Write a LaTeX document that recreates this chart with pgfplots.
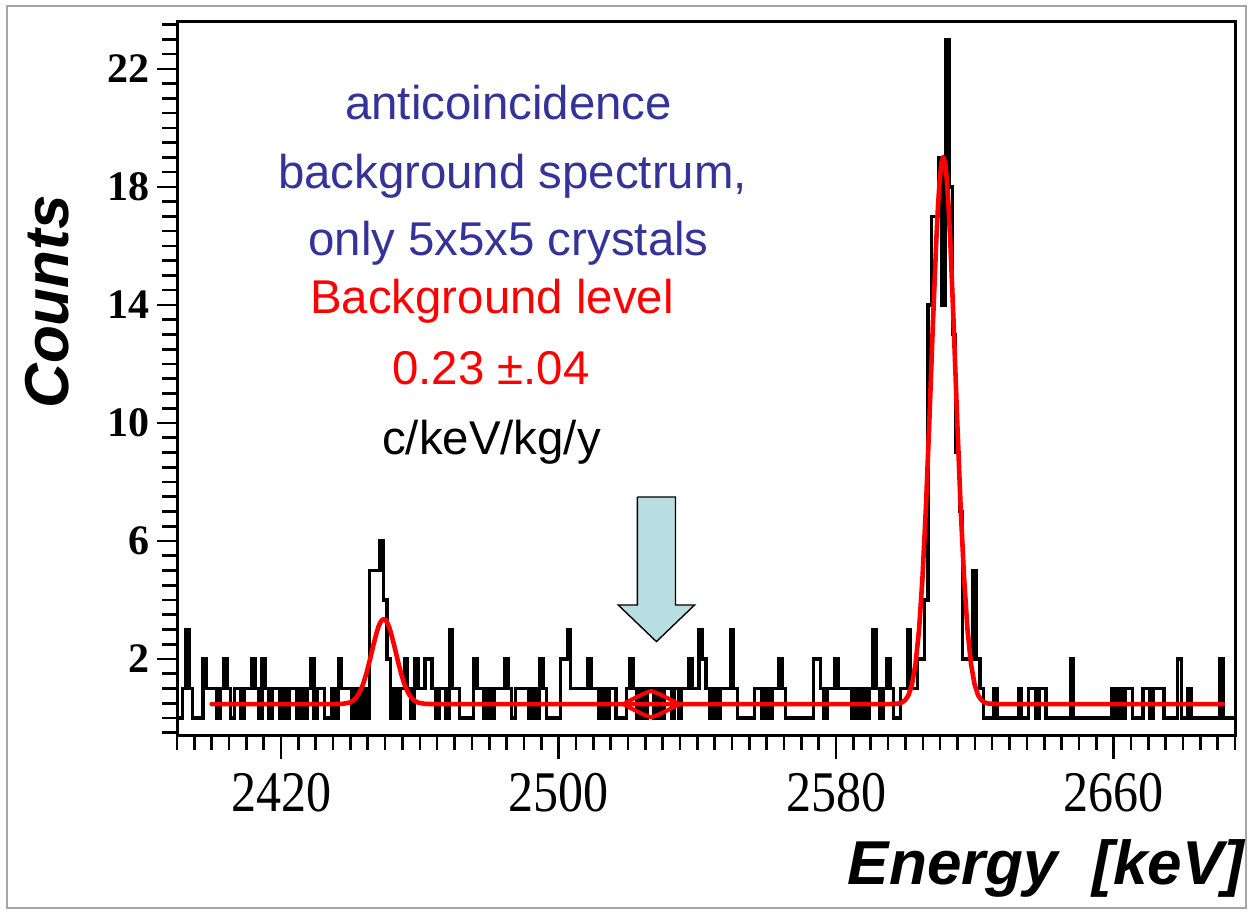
\documentclass[border=0pt]{standalone}
\usepackage{pgfplots}
\pgfplotsset{compat=1.18}
\usepackage{pgfplotstable}
\usepackage{fontspec}
\setmainfont{Liberation Serif}
\newfontfamily\arial{Liberation Sans}

\definecolor{txtblue}{RGB}{51,51,153}
\definecolor{arrowfill}{RGB}{184,222,226}
\definecolor{framegray}{RGB}{165,165,165}

% counts per 1 keV bin (bin centre, counts)
\pgfplotstableread[row sep=\\]{
E n \\
2389 0 \\
2390 0 \\ 2391 0 \\ 2392 1 \\ 2393 3 \\ 2394 1 \\ 2395 0 \\ 2396 0 \\ 2397 0 \\ 2398 2 \\ 2399 1 \\
2400 1 \\ 2401 1 \\ 2402 0 \\ 2403 1 \\ 2404 2 \\ 2405 1 \\ 2406 0 \\ 2407 1 \\ 2408 1 \\ 2409 0 \\
2410 1 \\ 2411 1 \\ 2412 2 \\ 2413 1 \\ 2414 0 \\ 2415 2 \\ 2416 1 \\ 2417 0 \\ 2418 1 \\ 2419 1 \\
2420 0 \\ 2421 1 \\ 2422 0 \\ 2423 1 \\ 2424 1 \\ 2425 0 \\ 2426 1 \\ 2427 0 \\ 2428 1 \\ 2429 2 \\
2430 0 \\ 2431 1 \\ 2432 1 \\ 2433 0 \\ 2434 0 \\ 2435 1 \\ 2436 0 \\ 2437 2 \\ 2438 1 \\ 2439 1 \\
2440 1 \\ 2441 0 \\ 2442 1 \\ 2443 0 \\ 2444 1 \\ 2445 0 \\ 2446 5 \\ 2447 5 \\ 2448 5 \\ 2449 6 \\
2450 4 \\ 2451 2 \\ 2452 0 \\ 2453 1 \\ 2454 0 \\ 2455 1 \\ 2456 2 \\ 2457 1 \\ 2458 0 \\ 2459 2 \\
2460 1 \\ 2461 1 \\ 2462 2 \\ 2463 2 \\ 2464 1 \\ 2465 0 \\ 2466 1 \\ 2467 1 \\ 2468 0 \\ 2469 3 \\
2470 1 \\ 2471 1 \\ 2472 0 \\ 2473 0 \\ 2474 0 \\ 2475 0 \\ 2476 2 \\ 2477 1 \\ 2478 1 \\ 2479 0 \\
2480 1 \\ 2481 0 \\ 2482 1 \\ 2483 1 \\ 2484 1 \\ 2485 2 \\ 2486 1 \\ 2487 0 \\ 2488 1 \\ 2489 1 \\
2490 1 \\ 2491 1 \\ 2492 0 \\ 2493 1 \\ 2494 0 \\ 2495 2 \\ 2496 1 \\ 2497 0 \\ 2498 0 \\ 2499 0 \\
2500 0 \\ 2501 2 \\ 2502 2 \\ 2503 3 \\ 2504 1 \\ 2505 1 \\ 2506 1 \\ 2507 1 \\ 2508 1 \\ 2509 2 \\
2510 1 \\ 2511 1 \\ 2512 0 \\ 2513 1 \\ 2514 0 \\ 2515 1 \\ 2516 1 \\ 2517 0 \\ 2518 0 \\ 2519 0 \\
2520 1 \\ 2521 2 \\ 2522 1 \\ 2523 0 \\ 2524 1 \\ 2525 0 \\ 2526 1 \\ 2527 1 \\ 2528 0 \\ 2529 1 \\
2530 0 \\ 2531 1 \\ 2532 1 \\ 2533 0 \\ 2534 1 \\ 2535 0 \\ 2536 1 \\ 2537 1 \\ 2538 2 \\ 2539 1 \\
2540 1 \\ 2541 3 \\ 2542 2 \\ 2543 1 \\ 2544 0 \\ 2545 1 \\ 2546 0 \\ 2547 1 \\ 2548 1 \\ 2549 1 \\
2550 3 \\ 2551 1 \\ 2552 0 \\ 2553 0 \\ 2554 0 \\ 2555 0 \\ 2556 0 \\ 2557 1 \\ 2558 1 \\ 2559 0 \\
2560 1 \\ 2561 0 \\ 2562 1 \\ 2563 1 \\ 2564 2 \\ 2565 1 \\ 2566 0 \\ 2567 0 \\ 2568 0 \\ 2569 0 \\
2570 0 \\ 2571 0 \\ 2572 0 \\ 2573 0 \\ 2574 2 \\ 2575 2 \\ 2576 1 \\ 2577 0 \\ 2578 1 \\ 2579 1 \\
2580 2 \\ 2581 1 \\ 2582 1 \\ 2583 1 \\ 2584 1 \\ 2585 0 \\ 2586 1 \\ 2587 0 \\ 2588 1 \\ 2589 0 \\
2590 1 \\ 2591 3 \\ 2592 1 \\ 2593 0 \\ 2594 1 \\ 2595 2 \\ 2596 1 \\ 2597 0 \\ 2598 0 \\ 2599 1 \\
2600 1 \\ 2601 3 \\ 2602 1 \\ 2603 1 \\ 2604 2 \\ 2605 2 \\ 2606 4 \\ 2607 14 \\ 2608 17 \\ 2609 17 \\
2610 19 \\ 2611 14 \\ 2612 23 \\ 2613 18 \\ 2614 13 \\ 2615 9 \\ 2616 7 \\ 2617 2 \\ 2618 2 \\ 2619 2 \\
2620 5 \\ 2621 2 \\ 2622 1 \\ 2623 0 \\ 2624 0 \\ 2625 0 \\ 2626 1 \\ 2627 0 \\ 2628 0 \\ 2629 0 \\
2630 0 \\ 2631 0 \\ 2632 0 \\ 2633 1 \\ 2634 0 \\ 2635 0 \\ 2636 1 \\ 2637 1 \\ 2638 0 \\ 2639 1 \\
2640 1 \\ 2641 0 \\ 2642 0 \\ 2643 0 \\ 2644 0 \\ 2645 0 \\ 2646 0 \\ 2647 0 \\ 2648 2 \\ 2649 0 \\
2650 0 \\ 2651 0 \\ 2652 0 \\ 2653 0 \\ 2654 0 \\ 2655 0 \\ 2656 0 \\ 2657 0 \\ 2658 0 \\ 2659 0 \\
2660 1 \\ 2661 0 \\ 2662 1 \\ 2663 0 \\ 2664 1 \\ 2665 1 \\ 2666 0 \\ 2667 0 \\ 2668 0 \\ 2669 1 \\
2670 1 \\ 2671 0 \\ 2672 1 \\ 2673 1 \\ 2674 1 \\ 2675 0 \\ 2676 0 \\ 2677 0 \\ 2678 0 \\ 2679 2 \\
2680 0 \\ 2681 0 \\ 2682 1 \\ 2683 0 \\ 2684 0 \\ 2685 0 \\ 2686 0 \\ 2687 0 \\ 2688 0 \\ 2689 0 \\
2690 0 \\ 2691 2 \\ 2692 0 \\ 2693 0 \\ 2694 0 \\ 2695 0 \\
}\spectrum

\begin{document}
\begin{tikzpicture}
\useasboundingbox (0,0) rectangle (626pt,456pt);
\draw[framegray, line width=0.8pt] (3.5pt,2pt) rectangle (623pt,453pt);

\begin{axis}[
  at={(88.5pt,88.5pt)}, anchor=south west,
  scale only axis, width=529pt, height=356.5pt,
  xmin=2390, xmax=2695, ymin=-0.576, ymax=23.59,
  axis line style={line width=1.5pt},
  xtick={2420,2500,2580,2660},
  xticklabels={\scalebox{1}[1.15]{2420},\scalebox{1}[1.15]{2500},\scalebox{1}[1.15]{2580},\scalebox{1}[1.15]{2660}},
  minor x tick num=15,
  ytick={2,6,10,14,18,22},
  yticklabels={2,6,10,14,18,22},
  minor y tick num=7,
  tick align=outside,
  tick pos=left,
  major tick length=10pt, minor tick length=5pt,
  tick style={black, line width=1.3pt},
  xticklabel style={font=\fontsize{25}{25}\selectfont, inner sep=0pt, yshift=-9pt},
  yticklabel style={font=\fontsize{21}{21}\selectfont\bfseries, inner sep=0pt, xshift=-3.5pt},
]

% measured spectrum
\addplot[const plot mark mid, black, line width=1.7pt] table[x=E, y=n] {\spectrum};

% fit: flat background plus the two gamma lines
\addplot[red, line width=2.3pt, line join=round, line cap=round] coordinates {
(2400,0.47) (2434,0.47) (2437.6,0.478) (2439.6,0.519) (2440.6,0.576) (2441.6,0.681)
(2442.6,0.860) (2443.6,1.132) (2444.6,1.508) (2445.6,1.969) (2446.6,2.465) (2447.6,2.916)
(2448.1,3.10) (2448.6,3.235) (2449.1,3.32) (2449.6,3.35) (2450.1,3.32) (2450.6,3.235)
(2451.1,3.10) (2451.6,2.916) (2452.6,2.465) (2453.6,1.969) (2454.6,1.508) (2455.6,1.132)
(2456.6,0.860) (2457.6,0.681) (2458.6,0.576) (2459.6,0.519) (2461.6,0.478) (2465,0.47)
(2595,0.47) (2597.9,0.489) (2598.9,0.522) (2599.9,0.603) (2600.9,0.78) (2601.9,1.15)
(2602.9,1.83) (2603.9,2.97) (2604.9,4.74) (2605.9,7.15) (2606.9,10.12) (2607.9,13.33)
(2608.9,16.22) (2609.4,17.39) (2609.9,18.28) (2610.4,18.83) (2610.9,19.02) (2611.4,18.83)
(2611.9,18.28) (2612.4,17.39) (2612.9,16.22) (2613.9,13.33) (2614.9,10.12) (2615.9,7.15)
(2616.9,4.74) (2617.9,2.97) (2618.9,1.83) (2619.9,1.15) (2620.9,0.78) (2621.9,0.603)
(2622.9,0.522) (2623.9,0.489) (2627,0.47) (2691.5,0.47)
};

% region of interest marker
\addplot[red, line width=2pt, line join=round] coordinates {
(2518.7,0.47) (2520.7,0.60) (2522.7,0.72) (2524.7,0.83) (2526.7,0.92)
(2528.7,0.83) (2530.7,0.72) (2532.7,0.60) (2534.7,0.47)
};
\addplot[red, line width=2pt, line join=round] coordinates {
(2518.7,0.47) (2520.7,0.34) (2522.7,0.22) (2524.7,0.11) (2526.7,0.02)
(2528.7,0.11) (2530.7,0.22) (2532.7,0.34) (2534.7,0.47)
};

% arrow pointing at the Q-value
\addplot[draw=black, line width=0.7pt, fill=arrowfill, line join=miter] coordinates {
(2522.7,7.49) (2533.7,7.49) (2533.7,3.83) (2539.2,3.83) (2528.2,2.59)
(2517.2,3.83) (2522.7,3.83) (2522.7,7.49)
};
\end{axis}

% heavy tick marks along the frame (5 keV and 0.5 count steps)
\begin{scope}[line width=1.3pt, black]
\foreach \e in {2390,2395,...,2695}
  \draw ({(88.5+(\e-2390)*1.734426)*1pt},88.5pt) -- ++(0,-7.5pt);
\foreach \e in {2420,2500,2580,2660}
  \draw ({(88.5+(\e-2390)*1.734426)*1pt},88.5pt) -- ++(0,-12pt);
\foreach \c in {-0.5,0,...,23.5}
  \draw (88.5pt,{(88.5+(\c+0.576)*14.7521)*1pt}) -- ++(-7.5pt,0);
\foreach \c in {2,6,...,22}
  \draw (88.5pt,{(88.5+(\c+0.576)*14.7521)*1pt}) -- ++(-10pt,0);
\end{scope}

% annotations
\begin{scope}[every node/.style={anchor=base, inner sep=0pt, font=\arial\fontsize{23.7}{24}\selectfont}]
\node[text=txtblue] at (254.25pt,396pt) {anticoincidence};
\node[text=txtblue] at (256.25pt,361.5pt) {background spectrum,};
\node[text=txtblue] at (254.25pt,328pt) {only 5x5x5 crystals};
\node[text=red] at (246pt,299pt) {Background level};
\node[text=red] at (245.5pt,264pt) {0.23 ±.04};
\node[text=black] at (245.75pt,229pt) {c/keV/kg/y};
\end{scope}

% axis titles
\node[rotate=90, inner sep=0pt, font=\arial\bfseries\itshape\fontsize{31}{31}\selectfont] at (23.5pt,305pt) {Counts};
\node[anchor=base, inner sep=0pt, font=\arial\bfseries\itshape\fontsize{31}{31}\selectfont] at (523pt,13.8pt) {Energy\ \ [keV]};
\end{tikzpicture}
\end{document}
